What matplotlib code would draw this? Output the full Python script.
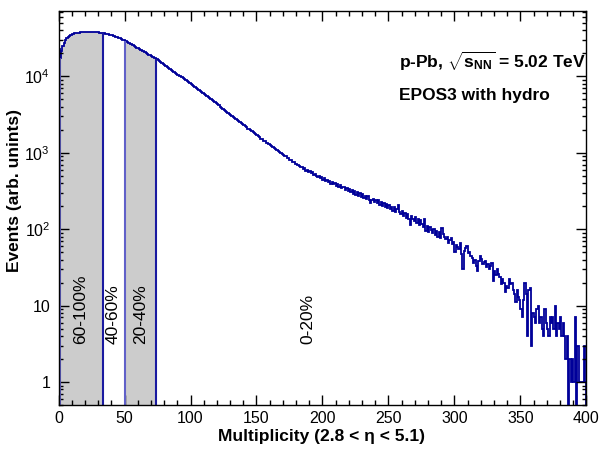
import numpy as np
import matplotlib
matplotlib.use('Agg')
import matplotlib.pyplot as plt
from matplotlib.ticker import MultipleLocator, LogLocator, NullFormatter, FuncFormatter

plt.rcParams['font.family'] = ['Liberation Sans', 'DejaVu Sans']
plt.rcParams['mathtext.fontset'] = 'custom'
plt.rcParams['mathtext.rm'] = 'Liberation Sans'
plt.rcParams['mathtext.it'] = 'Liberation Sans:italic'
plt.rcParams['mathtext.bf'] = 'Liberation Sans:bold'

# multiplicity histogram, one bin per unit from 0 to 400
bin_edges = np.arange(0, 401)
events = [
    23000, 17500, 21500, 25000, 27500, 30000, 31500, 33000, 34200, 35100,
    35800, 36300, 36700, 37000, 37300, 37600, 37800, 38000, 38100, 38200,
    38300, 38400, 38450, 38450, 38450, 38400, 38300, 38200, 38100, 37950,
    37800, 37600, 37350, 37050, 36700, 36400, 36050, 35700, 35300, 34900,
    34450, 34000, 33500, 33000, 32500, 32000, 31450, 30900, 30350, 29850,
    29400, 28800, 28150, 27500, 26850, 26250, 25650, 25050, 24450, 23900,
    23350, 22800, 22300, 21750, 21250, 20750, 20300, 19800, 19350, 18900,
    18450, 18050, 17600, 17200, 16800, 16310, 15850, 15400, 14960, 14540,
    14130, 13730, 13340, 12960, 12590, 12230, 11890, 11550, 11220, 10900,
    10590, 10290, 10000, 9716, 9441, 9173, 8913, 8660, 8414, 8175,
    7943, 7703, 7470, 7245, 7026, 6814, 6608, 6408, 6215, 6027,
    5845, 5668, 5497, 5331, 5170, 5014, 4863, 4716, 4573, 4435,
    4301, 4171, 4045, 3923, 3805, 3690, 3578, 3470, 3365, 3264,
    3165, 3080, 2960, 2895, 2790, 2715, 2600, 2570, 2455, 2400,
    2335, 2235, 2190, 2055, 2060, 1975, 1930, 1850, 1825, 1740,
    1705, 1655, 1590, 1525, 1520, 1450, 1440, 1365, 1330, 1310,
    1255, 1240, 1180, 1170, 1110, 1100, 1050, 1040, 985, 975,
    950, 905, 900, 860, 845, 805, 800, 760, 760, 715,
    708, 685, 675, 660, 645, 620, 630, 585, 605, 565,
    580, 540, 565, 515, 530, 505, 480, 500, 462, 478,
    445, 462, 425, 445, 412, 430, 392, 415, 388, 402,
    365, 395, 358, 382, 345, 362, 352, 325, 348, 320,
    338, 305, 325, 292, 318, 285, 305, 272, 296, 265,
    290, 258, 275, 250, 272, 242, 218, 240, 250, 228,
    245, 218, 238, 210, 230, 200, 222, 195, 215, 192,
    210, 182, 198, 172, 195, 168, 182, 210, 168, 158,
    172, 148, 165, 142, 160, 135, 115, 150, 135, 128,
    145, 122, 138, 112, 132, 118, 108, 135, 95, 110,
    92, 108, 98, 88, 102, 85, 96, 78, 92, 76,
    104, 86, 80, 74, 78, 66, 72, 77, 64, 68,
    51, 62, 58, 55, 66, 48, 30, 52, 56, 60,
    49, 51, 45, 42, 36, 40, 33, 28, 38, 44,
    41, 35, 37, 38, 32, 35, 30, 33, 36, 21,
    28, 25, 30, 26, 24, 19, 22, 20, 15, 18,
    17, 22, 19, 20, 16, 14, 11, 16, 13, 12,
    9, 7, 12, 20, 14, 4, 16, 17, 3, 8,
    7, 6, 9, 10, 6, 7, 5, 4, 9, 6,
    5, 4, 7, 6, 7, 5, 10, 4, 6, 5,
    7, 4, 6, 4, 2, 4, 0, 2, 1, 2,
    1, 7, 0, 3, 1, 1, 1, 1, 3, 1,
]
class_edges = [1, 34, 50, 74]
filled_ranges = [(1, 34), (50, 74)]
class_labels = ['60-100%', '40-60%', '20-40%', '0-20%']
label_centres = [17, 41.5, 62, 189]

counts = np.array(events, dtype=float)
floor = 0.05
shown = np.where(counts > 0, counts, floor)

fig = plt.figure(figsize=(6.02, 4.49), dpi=100)
ax = fig.add_axes([0.0972, 0.098, 0.877, 0.8775])
ax.set_yscale('log')

for lo, hi in filled_ranges:
    ax.stairs(shown[lo:hi], bin_edges[lo:hi + 1], baseline=floor, fill=True,
              color='#cccccc', lw=0)
ax.stairs(shown, bin_edges, baseline=floor, color='#000099', lw=1.3)

edge_colors = ['#6060c8', '#1a1aa0', '#6060c8', '#1a1aa0']
for e, c in zip(class_edges, edge_colors):
    ax.vlines(e, floor, shown[e], color=c, lw=1.5)

for lab, xc in zip(class_labels, label_centres):
    ax.text(xc, 0.155, lab, rotation=90, ha='center', va='bottom', fontsize=12.5,
            transform=ax.get_xaxis_transform())

ax.set_xlim(0, 400)
ax.set_ylim(0.5, 7.2e4)
ax.xaxis.set_major_locator(MultipleLocator(50))
ax.xaxis.set_minor_locator(MultipleLocator(10))
ax.yaxis.set_major_locator(LogLocator(base=10, numticks=10))
ax.yaxis.set_minor_locator(LogLocator(base=10, subs=np.arange(2, 10), numticks=20))
ax.yaxis.set_minor_formatter(NullFormatter())


def decade_label(v, pos):
    if v < 1.5:
        return '1'
    if v < 15:
        return '10'
    return r'$10^{%d}$' % round(np.log10(v))


ax.yaxis.set_major_formatter(FuncFormatter(decade_label))
ax.tick_params(which='both', direction='in', top=True, right=True, labelsize=11.5, width=1)
ax.tick_params(axis='x', which='major', length=7.2, pad=4)
ax.tick_params(axis='x', which='minor', length=3.6)
ax.tick_params(axis='y', which='major', length=7, pad=6)
ax.tick_params(axis='y', which='minor', length=3.2)
for s in ax.spines.values():
    s.set_linewidth(1)

ax.text(0.645, 0.855, r'p-Pb, $\mathbf{\sqrt{s_{NN}}}$ = 5.02 TeV', transform=ax.transAxes,
        fontsize=12.5, fontweight='bold', va='baseline')
ax.text(0.645, 0.774, 'EPOS3 with hydro', transform=ax.transAxes,
        fontsize=12.5, fontweight='bold', va='baseline')

fig.text(322 / 602, 1 - 437 / 449, 'Multiplicity (2.8 < \u03b7 < 5.1)', ha='center', va='center',
         fontsize=12.5, fontweight='bold')
fig.text(15 / 602, 1 - 190 / 449, 'Events (arb. unints)', rotation=90, ha='center', va='center',
         fontsize=12.5, fontweight='bold')

plt.savefig('out.png', dpi=100)
